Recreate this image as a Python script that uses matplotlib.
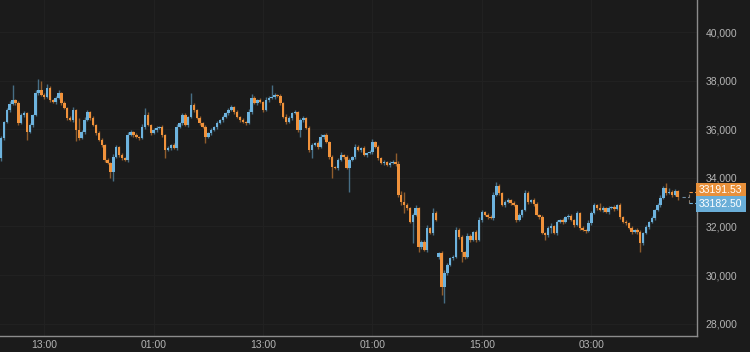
import numpy as np
import matplotlib.pyplot as plt
from matplotlib.transforms import blended_transform_factory

# 15-min style candles (closes, open of each = previous close)
closes = [
    35638, 36296, 36790, 37037, 37202, 37078, 36255, 36584, 36667, 35885,
    36173, 36584, 37490, 37613, 37408, 37325, 37696, 37202, 37120, 37284,
    37490, 37078, 36873, 36461, 36379, 36790, 35967, 35638, 35885, 36379,
    36708, 36461, 36173, 35844, 35556, 35350, 34733, 34609, 34239, 34856,
    35268, 34938, 34815, 34733, 35762, 35885, 35762, 35679, 35638, 36091,
    36584, 36173, 35844, 35967, 36050, 36091, 35762, 35144, 35227, 35350,
    35227, 36091, 36255, 36584, 36173, 36502, 36996, 36790, 36461, 36255,
    36091, 35679, 35844, 35967, 36091, 36255, 36379, 36502, 36667, 36790,
    36914, 36708, 36502, 36379, 36296, 36255, 36708, 37284, 37078, 37202,
    37120, 36790, 37202, 37284, 37325, 37408, 37370, 37078, 36502, 36296,
    36461, 36667, 36708, 35967, 36379, 36461, 36050, 35144, 35350, 35432,
    35268, 35679, 35762, 35473, 34856, 34445, 34404, 34733, 34938, 34856,
    34404, 34733, 34856, 35268, 35144, 35227, 34938, 35021, 35062, 35473,
    35268, 34815, 34609, 34650, 34527, 34609, 34650, 34568, 33293, 33004,
    32881, 32758, 32181, 32470, 32758, 31153, 31359, 31030, 31935, 31729,
    32552, 32264, 30906, 29507, 30083, 30412, 30700, 30741, 31852, 31564,
    30947, 30741, 31606, 31441, 31770, 31441, 32264, 32593, 32470, 32387,
    32346, 33293, 33663, 33375, 32881, 33004, 33087, 32963, 32881, 32264,
    32470, 32675, 33375, 33004, 33087, 32922, 32470, 32387, 31729, 31647,
    31935, 32017, 31729, 32181, 32264, 32181, 32387, 32428, 32264, 32058,
    32552, 31935, 31852, 31811, 32140, 32552, 32881, 32758, 32675, 32758,
    32593, 32758, 32799, 32717, 32881, 32387, 32181, 32140, 31935, 31770,
    31852, 31770, 31318, 31729, 31976, 32181, 32346, 32675, 32881, 33169,
    33581, 33375, 33416, 33293, 33457, 33192,
]
first_open = 34815
gap_opens = {152: 30741}   # opening gap after the break

upper_wick = [
    80, 60, 90, 120, 620, 60, 100, 70, 80, 60, 90, 60, 140, 440, 390, 100, 160, 80, 60, 90,
    120, 60, 80, 60, 90, 110, 60, 490, 80, 120, 90, 60, 80, 60, 70, 90, 60, 80, 60, 120,
    90, 60, 80, 60, 120, 90, 60, 80, 60, 110, 290, 120, 60, 80, 90, 60, 80, 60, 90, 60,
    80, 120, 60, 90, 80, 60, 490, 80, 60, 90, 60, 80, 60, 90, 60, 80, 60, 90, 60, 80,
    100, 60, 80, 60, 90, 60, 120, 160, 90, 60, 80, 60, 120, 90, 500, 80, 60, 90, 60, 120,
    80, 60, 90, 60, 80, 90, 60, 80, 90, 60, 80, 120, 60, 80, 60, 90, 60, 80, 120, 60,
    80, 90, 60, 120, 80, 60, 90, 60, 80, 120, 60, 90, 60, 80, 60, 90, 80, 370, 120, 160,
    400, 80, 60, 90, 120, 60, 80, 90, 120, 60, 200, 80, 60, 90, 120, 80, 60, 90, 120, 80,
    90, 60, 120, 80, 60, 90, 120, 80, 60, 90, 80, 120, 160, 80, 60, 90, 80, 60, 90, 60,
    80, 60, 120, 80, 60, 90, 80, 60, 90, 60, 80, 120, 60, 90, 60, 80, 60, 90, 80, 60,
    90, 60, 80, 60, 120, 80, 90, 60, 200, 80, 60, 90, 60, 80, 60, 90, 60, 80, 60, 90,
    60, 80, 90, 60, 80, 60, 90, 60, 80, 120, 90, 205, 160, 80, 90, 60,
]
lower_wick = [
    120, 80, 60, 90, 60, 80, 100, 60, 80, 330, 60, 90, 60, 80, 60, 90, 60, 80, 60, 90,
    60, 80, 60, 90, 60, 80, 450, 90, 60, 80, 60, 90, 60, 80, 60, 90, 80, 60, 250, 370,
    60, 80, 90, 60, 80, 60, 90, 60, 80, 60, 90, 60, 80, 60, 90, 60, 80, 330, 60, 90,
    60, 80, 60, 90, 60, 80, 60, 90, 60, 80, 60, 250, 60, 90, 60, 80, 60, 90, 60, 80,
    60, 90, 60, 80, 60, 90, 60, 80, 60, 90, 60, 80, 60, 90, 60, 80, 60, 90, 60, 80,
    60, 90, 60, 80, 290, 90, 60, 80, 330, 60, 80, 60, 90, 60, 80, 450, 60, 90, 60, 80,
    60, 990, 60, 90, 60, 80, 60, 90, 60, 80, 60, 90, 60, 80, 60, 90, 60, 80, 90, 120,
    330, 80, 60, 860, 60, 200, 80, 60, 90, 60, 80, 60, 90, 330, 660, 90, 60, 80, 60, 90,
    410, 80, 60, 90, 60, 80, 60, 90, 60, 80, 60, 90, 60, 80, 60, 90, 60, 80, 60, 90,
    60, 80, 60, 90, 60, 80, 60, 90, 60, 200, 80, 200, 60, 80, 60, 90, 60, 80, 60, 90,
    60, 80, 60, 90, 60, 80, 60, 90, 60, 80, 60, 90, 60, 80, 60, 90, 60, 80, 60, 90,
    60, 80, 370, 90, 60, 80, 60, 90, 60, 80, 60, 90, 60, 80, 60, 90,
]

tick_pos = [15, 53, 91, 129, 167, 205]
tick_labels = ['13:00', '01:00', '13:00', '01:00', '15:00', '03:00']
y_ticks = [28000, 30000, 32000, 34000, 36000, 38000, 40000]
ask_price = 33191.53
bid_price = 33182.50

UP = '#6db3de'
DOWN = '#f0923b'
BG = '#1b1b1b'

opens = [first_open] + closes[:-1]
for k, v in gap_opens.items():
    opens[k] = v

o = np.array(opens, dtype=float)
c = np.array(closes, dtype=float)
x = np.arange(len(c))
top = np.maximum(o, c)
bot = np.minimum(o, c)
hi = top + np.array(upper_wick)
lo = bot - np.array(lower_wick)
cols = [UP if cc >= oo else DOWN for oo, cc in zip(o, c)]

plt.rcParams['font.family'] = ['Liberation Sans', 'DejaVu Sans']
fig = plt.figure(figsize=(7.5, 3.52), dpi=100, facecolor=BG)
ax = fig.add_axes([0, 16 / 352, 697 / 750, 336 / 352], facecolor=BG)

ax.vlines(x, lo, hi, colors=cols, linewidth=1.0, alpha=0.55, zorder=2)
ax.bar(x, np.maximum(top - bot, 25), bottom=bot, width=0.85, color=cols,
       linewidth=0, zorder=3)

ax.set_xlim(-0.35, 241.7)
ax.set_ylim(27490, 41317)

ax.set_xticks(tick_pos)
ax.set_xticklabels(tick_labels)
ax.set_yticks(y_ticks)
ax.set_yticklabels([f'{v:,}' for v in y_ticks])
ax.yaxis.tick_right()
ax.tick_params(axis='both', length=0, colors='#b4b4b4', labelsize=7.5)
ax.tick_params(axis='y', pad=6)
ax.tick_params(axis='x', pad=3)
ax.grid(True, color='#212121', linewidth=0.8, zorder=0)

for s in ['top', 'left']:
    ax.spines[s].set_visible(False)
for s in ['right', 'bottom']:
    ax.spines[s].set_color('#8c8c8c')
    ax.spines[s].set_linewidth(1.0)

# bracket from last candle to the two price labels
last = x[-1]
ask_y, bid_y = 33430, 32960
ax.plot([last + 1.5, 238.9], [ask_price, ask_price], color='#6d8aa0', lw=0.8, ls=(0, (3, 2)), zorder=4)
ax.plot([238.9, 238.9], [bid_y, ask_y], color='#8a7a6a', lw=0.8, ls=(0, (3, 2)), zorder=4)
ax.plot([238.9, 241.7], [ask_y, ask_y], color=DOWN, lw=0.8, ls=(0, (3, 2)), zorder=4)
ax.plot([238.9, 241.7], [bid_y, bid_y], color=UP, lw=0.8, ls=(0, (3, 2)), zorder=4)

tr = blended_transform_factory(ax.transAxes, ax.transData)
ax.text(1.003, 33478, f'{ask_price:.2f}', transform=tr, ha='left', va='center',
        fontsize=7.5, color='white', clip_on=False,
        bbox=dict(boxstyle='square,pad=0.28', facecolor='#e8903a', edgecolor='none'))
ax.text(1.003, 32922, f'{bid_price:.2f}', transform=tr, ha='left', va='center',
        fontsize=7.5, color='white', clip_on=False,
        bbox=dict(boxstyle='square,pad=0.28', facecolor='#6aaed8', edgecolor='none'))

fig.savefig('out.png', dpi=100, facecolor=BG)
